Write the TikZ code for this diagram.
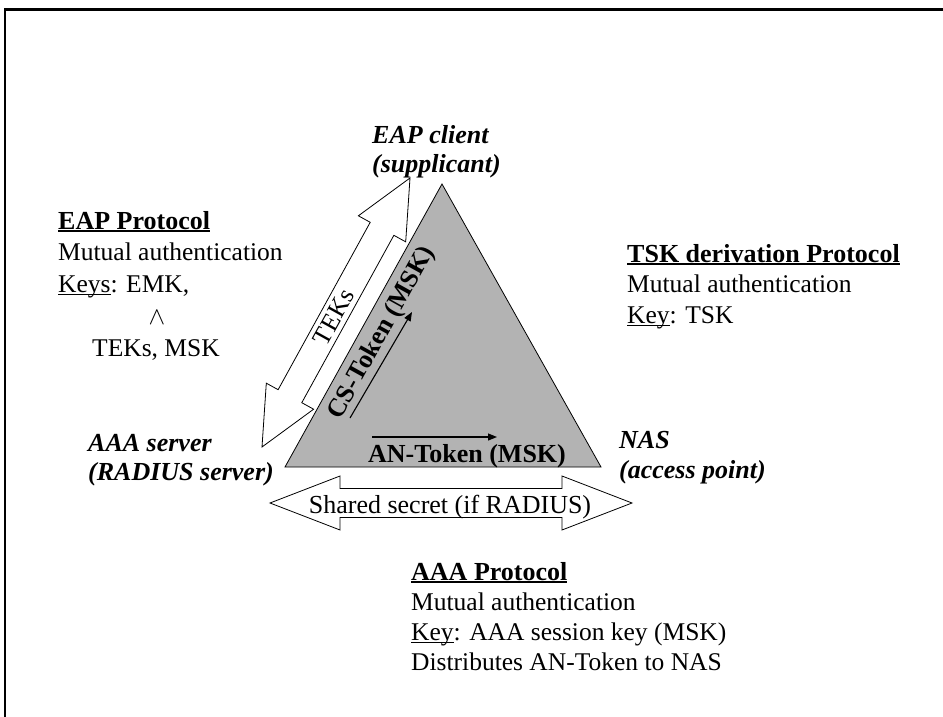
\documentclass[tikz,border=0pt]{standalone}
\usepackage{fontspec}
\setmainfont{Liberation Serif}
\usetikzlibrary{calc,arrows.meta}

% underline drawn as a rule just below the baseline (#1 thickness, #2 text)
\newcommand\ulx[2][1.3pt]{\leavevmode\setbox0\hbox{#2}\rlap{\rule[-2.8pt]{\wd0}{#1}}\box0}

% hollow double arrow between two tips:
% #1,#2 tips, #3 half shaft width, #4 half head width, #5 head length
\newcommand\dblarrow[5]{%
  \filldraw[arrowbox]
    ($(#1)!#5!(#2)!#4!90:(#2)$) -- (#1) --
    ($(#1)!#5!(#2)!#4!-90:(#2)$) --
    ($(#1)!#5!(#2)!#3!-90:(#2)$) --
    ($(#2)!#5!(#1)!#3!90:(#1)$) --
    ($(#2)!#5!(#1)!#4!90:(#1)$) -- (#2) --
    ($(#2)!#5!(#1)!#4!-90:(#1)$) --
    ($(#2)!#5!(#1)!#3!-90:(#1)$) --
    ($(#1)!#5!(#2)!#3!90:(#2)$) -- cycle;}

\definecolor{trigray}{RGB}{179,179,179}

\begin{document}
\begin{tikzpicture}[x=1pt,y=-1pt,
  txt/.style={inner sep=0pt,font=\fontsize{25.5}{29}\selectfont},
  lbl/.style={txt,anchor=base west},
  party/.style={lbl,font=\fontsize{26}{29}\selectfont\bfseries\itshape},
  tri/.style={fill=trigray,draw=black,line width=0.8pt,line join=miter},
  arrowbox/.style={fill=white,draw=black,line width=0.8pt,line join=miter},
  tokarrow/.style={draw=black,line width=1.1pt,-{Triangle[length=9pt,width=7pt]}},
  frame/.style={draw=black,line cap=rect}]
\useasboundingbox (0,0) rectangle (943,717);

% page frame (top and left edges)
\draw[frame,line width=3pt] (5,10) -- (943,10);
\draw[frame,line width=2pt] (5,10) -- (5,717);

% the trust triangle
\coordinate (apex) at (442,184);
\coordinate (bl) at (285,467);
\coordinate (br) at (601,467);
\filldraw[tri] (apex) -- (bl) -- (br) -- cycle;

% TEKs exchanged between client and AAA server
\coordinate (tekTop) at (410,178);
\coordinate (tekBot) at (262,447);
\dblarrow{tekTop}{tekBot}{13.5pt}{27pt}{58pt}
\node[txt,rotate=61] (teks) at (334,317) {TEKs};

% shared secret between AAA server and NAS
\coordinate (ssL) at (270,503);
\coordinate (ssR) at (632,503);
\dblarrow{ssL}{ssR}{14.5pt}{27pt}{70pt}
\node[txt,anchor=base,font=\fontsize{26}{29}\selectfont] (shared) at (450,513) {Shared secret (if RADIUS)};

% tokens
\node[txt,rotate=61,font=\fontsize{26}{29}\selectfont\bfseries] (cstok) at (382,333) {CS-Token (MSK)};
\coordinate (csA) at (350,418);
\coordinate (csB) at (412,312);
\draw[tokarrow] (csA) -- (csB);

\node[lbl,font=\fontsize{26}{29}\selectfont\bfseries] (antok) at (368,462) {AN-Token (MSK)};
\coordinate (anA) at (372,437);
\coordinate (anB) at (497,437);
\draw[tokarrow] (anA) -- (anB);

% parties
\node[party] (client1) at (372,143) {EAP client};
\node[party] (client2) at (372,172) {(supplicant)};
\node[party] (aaa1) at (88,451) {AAA server};
\node[party] (aaa2) at (88,480) {(RADIUS server)};
\node[party] (nas1) at (619,448) {NAS};
\node[party] (nas2) at (619,478) {(access point)};

% EAP protocol
\node[lbl] (eap1) at (58,229) {\ulx[2pt]{\fontsize{26}{29}\selectfont\bfseries EAP Protocol}};
\node[lbl] (eap2) at (58,260) {Mutual authentication};
\node[lbl] (eap3) at (58,292) {\ulx{Keys}: EMK,};
\node[txt,anchor=base] (eap4) at (157,324) {$\wedge$};
\node[lbl] (eap5) at (92,356) {TEKs, MSK};

% TSK derivation protocol
\node[lbl] (tsk1) at (627,262) {\ulx[2pt]{\fontsize{26}{29}\selectfont\bfseries TSK derivation Protocol}};
\node[lbl] (tsk2) at (627,292) {Mutual authentication};
\node[lbl] (tsk3) at (627,323) {\ulx{Key}: TSK};

% AAA protocol
\node[lbl] (aaap1) at (411,580) {\ulx[2pt]{\fontsize{26}{29}\selectfont\bfseries AAA Protocol}};
\node[lbl] (aaap2) at (411,610) {Mutual authentication};
\node[lbl] (aaap3) at (411,640) {\ulx{Key}: AAA session key (MSK)};
\node[lbl] (aaap4) at (411,670) {Distributes AN-Token to NAS};
\end{tikzpicture}
\end{document}
